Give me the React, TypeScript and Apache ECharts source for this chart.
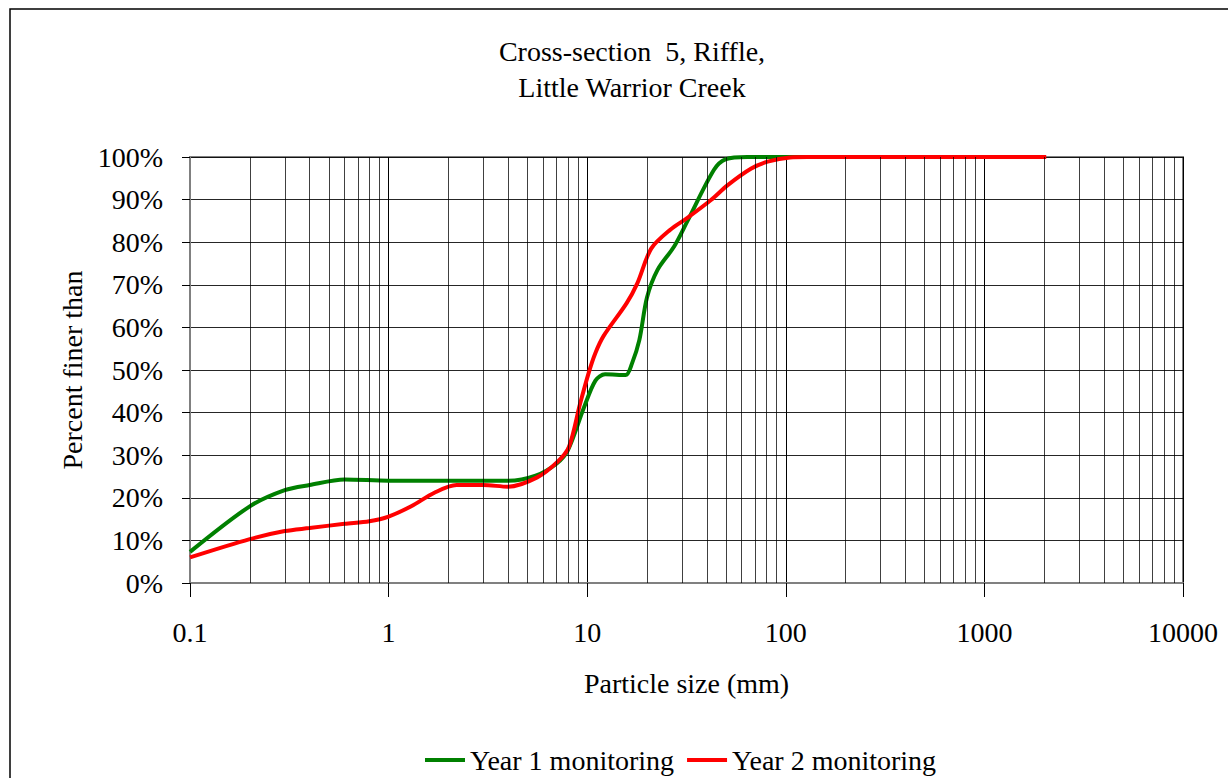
import React, { useEffect, useRef } from "react";
import * as echarts from "echarts";

const TITLE = "Cross-section  5, Riffle,\nLittle Warrior Creek";
const X_NAME = "Particle size (mm)";
const Y_NAME = "Percent finer than";
const SERIES_NAMES = ["Year 1 monitoring", "Year 2 monitoring"];

// particle size (mm) / percent finer
const year1Sizes = [0.1, 0.2, 0.3, 0.4, 0.6, 1, 2, 4, 5.5, 7, 8, 9.6, 11, 12.3, 15.6, 16.8, 18.3, 20, 22.6, 27.4, 32, 43.5, 50, 64, 128];
const year1Pct = [7.3, 18.0, 21.8, 23.0, 24.3, 24.0, 24.0, 24.0, 25.2, 28, 31.2, 41, 47.5, 49, 48.8, 51.5, 57, 67, 73.5, 79, 85, 97, 99.5, 100, 100];

const year2Sizes = [0.1, 0.2, 0.3, 0.4, 0.6, 0.8, 1, 1.3, 1.7, 2.2, 3, 4, 5.6, 7.1, 8.1, 9.2, 10.2, 11, 12.1, 15.8, 17.9, 21, 26.3, 31.7, 42, 51, 67, 81, 105, 128, 2048];
const year2Pct = [6.0, 10.3, 12.2, 12.9, 13.9, 14.5, 15.6, 18, 21.2, 23, 23, 22.6, 24.8, 28.5, 32, 42, 49.5, 54, 58, 65.7, 70.4, 78.5, 83, 85.6, 89.9, 93.4, 97.3, 98.9, 99.9, 100, 100];

const DECADES = [0.1, 1, 10, 100, 1000];
const MINOR_MULTIPLIERS = [2, 3, 4, 5, 6, 7, 8, 9];

const FONT = "'Liberation Serif', 'Times New Roman', serif";

export default function App() {
  const ref = useRef<HTMLDivElement>(null);
  useEffect(() => {
    if (!ref.current) return;
    const chart = echarts.init(ref.current, undefined, { renderer: "svg" });
    const minorLines: any[] = [];
    DECADES.forEach((d) =>
      MINOR_MULTIPLIERS.forEach((m) => minorLines.push({ xAxis: +(d * m).toPrecision(3) }))
    );
    const y1 = year1Sizes.map((s, i) => [s, year1Pct[i]]);
    const y2 = year2Sizes.map((s, i) => [s, year2Pct[i]]);
    chart.setOption({
      animation: false,
      backgroundColor: "#fff",
      textStyle: { fontFamily: FONT, color: "#000" },
      title: {
        text: TITLE,
        left: 627,
        top: 28,
        textAlign: "center",
        textStyle: { fontFamily: FONT, fontSize: 28, fontWeight: "normal", color: "#000", lineHeight: 36 },
      },
      graphic: [
        {
          type: "rect",
          shape: { x: 10, y: 9, width: 1234, height: 800 },
          style: { fill: "none", stroke: "#000", lineWidth: 1.5 },
          silent: true,
        },
      ],
      legend: {
        data: SERIES_NAMES,
        left: 420,
        top: 741,
        icon: "rect",
        itemWidth: 40,
        itemHeight: 4,
        itemGap: 13,
        textStyle: { fontFamily: FONT, fontSize: 28, color: "#000" },
      },
      grid: { left: 190, top: 157, right: 45, bottom: 195, show: true, borderColor: "#808080", borderWidth: 2, containLabel: false },
      xAxis: {
        type: "log",
        logBase: 10,
        min: 0.1,
        max: 10000,
        name: X_NAME,
        nameLocation: "middle",
        nameGap: 86,
        nameTextStyle: { fontFamily: FONT, fontSize: 28, color: "#000" },
        axisLine: { show: true, lineStyle: { color: "#808080", width: 2 } },
        axisTick: { show: true, length: 14, lineStyle: { color: "#000", width: 1 } },
        axisLabel: {
          fontFamily: FONT,
          fontSize: 28,
          color: "#000",
          margin: 35,
          formatter: (v: number) => (v < 1 ? String(+v.toPrecision(2)) : String(Math.round(v))),
        },
        splitLine: { show: true, lineStyle: { color: "#000", width: 1 } },
      },
      yAxis: {
        type: "value",
        min: 0,
        max: 100,
        interval: 10,
        name: Y_NAME,
        nameLocation: "middle",
        nameGap: 104,
        nameTextStyle: { fontFamily: FONT, fontSize: 28, color: "#000" },
        axisLine: { show: true, lineStyle: { color: "#808080", width: 2 } },
        axisTick: { show: true, length: 8, lineStyle: { color: "#000", width: 1 } },
        axisLabel: { fontFamily: FONT, fontSize: 28, color: "#000", margin: 27, formatter: "{value}%" },
        splitLine: { show: true, lineStyle: { color: "#000", width: 1, opacity: 0.85 } },
      },
      series: [
        {
          name: "minor-grid",
          type: "line",
          data: [],
          silent: true,
          z: 1,
          markLine: {
            silent: true,
            symbol: ["none", "none"],
            label: { show: false },
            lineStyle: { color: "#000", width: 1, type: "solid", opacity: 0.75 },
            emphasis: { disabled: true },
            data: minorLines,
          },
        },
        {
          name: SERIES_NAMES[0],
          type: "line",
          data: y1,
          smooth: 0.3,
          showSymbol: false,
          symbol: "none",
          z: 3,
          lineStyle: { color: "#008000", width: 4 },
          itemStyle: { color: "#008000" },
        },
        {
          name: SERIES_NAMES[1],
          type: "line",
          data: y2,
          smooth: 0.3,
          showSymbol: false,
          symbol: "none",
          z: 4,
          lineStyle: { color: "#ff0000", width: 4 },
          itemStyle: { color: "#ff0000" },
        },
      ],
    });
    return () => chart.dispose();
  }, []);
  return <div ref={ref} style={{ position: "absolute", left: 0, top: 0, width: 1228, height: 778 }} />;
}
